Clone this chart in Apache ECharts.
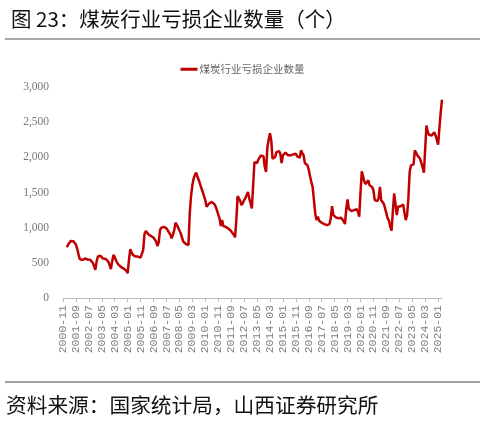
<!DOCTYPE html>
<html>
<head>
<meta charset="utf-8">
<script src="https://cdn.jsdelivr.net/npm/echarts@6/dist/echarts.min.js"></script>
<style>
html,body{margin:0;padding:0;background:#fff;}
#c{width:485px;height:423px;}
</style>
</head>
<body>
<div id="c"></div>
<script>
var titleText = '图 23：煤炭行业亏损企业数量（个）';
var sourceText = '资料来源：国家统计局，山西证券研究所';
var seriesName = '煤炭行业亏损企业数量';
var startYear = 2000, startMonth = 11, monthCount = 294;
var yTicks = [0, 500, 1000, 1500, 2000, 2500, 3000];

var lossCount = [
  null,null,null,722,760,787,811,792,806,792,
  760,700,620,552,525,540,555,561,535,547,
  520,545,530,500,457,400,520,590,615,600,
  590,560,555,556,540,518,470,410,518,613,
  580,533,500,471,455,440,430,418,410,385,
  354,542,693,650,613,595,589,590,589,585,
  575,570,683,910,952,930,905,895,882,865,
  858,849,801,740,790,966,1000,1023,1010,995,
  990,960,943,900,849,900,966,1070,1040,1004,
  960,920,860,801,780,768,760,754,1203,1450,
  1603,1698,1750,1783,1720,1674,1620,1560,1510,1450,
  1391,1296,1320,1344,1360,1367,1355,1334,1300,1249,
  1190,1132,1023,1108,1023,1030,1010,1004,985,966,
  950,943,900,863,1108,1448,1440,1380,1320,1350,
  1391,1420,1448,1509,1415,1350,1274,1603,1933,1957,
  1919,1967,1995,2028,2020,2014,1862,1791,2145,2250,
  2344,2240,1981,1990,2004,2075,2080,2089,2052,1919,
  2028,2050,2066,2040,2028,2030,2028,2035,2042,2050,
  2052,2014,2000,1995,2099,2060,2028,1919,1900,1886,
  1825,1731,1650,1579,1391,1203,1108,1155,1099,1080,
  1070,1055,1051,1045,1037,1040,1051,1132,1306,1179,
  1160,1146,1165,1132,1155,1140,1132,1090,1051,1274,
  1401,1264,1264,1236,1245,1250,1255,1264,1226,1155,
  1500,1801,1816,1650,1620,1603,1674,1603,1590,1579,
  1532,1391,1367,1380,1415,1579,1391,1415,1340,1274,
  1203,1132,1100,1013,957,1226,1486,1344,1179,1297,
  1297,1305,1311,1330,1210,1108,1180,1415,1791,1886,
  1877,1900,2099,2085,2028,2000,1981,1920,1862,1783,
  2122,2452,2358,2320,2315,2311,2330,2358,2311,2250,
  2179,2420,2640,2820
];

var months = [];
(function(){
  var y = startYear, m = startMonth;
  for (var i = 0; i < monthCount; i++) {
    months.push(y + '-' + (m < 10 ? '0' + m : '' + m));
    m++; if (m > 12) { m = 1; y++; }
  }
})();

var chart = echarts.init(document.getElementById('c'), null, {renderer: 'canvas'});
chart.setOption({
  backgroundColor: '#fff',
  animation: false,
  title: {
    text: titleText,
    left: 6, top: 4,
    textStyle: {fontSize: 20.5, fontWeight: 'normal', color: '#111', fontFamily: 'Noto Sans CJK SC'}
  },
  legend: {
    data: [seriesName],
    top: 59, left: 'center',
    itemWidth: 17, itemHeight: 3,
    itemGap: 4,
    icon: 'rect',
    textStyle: {fontSize: 10.5, color: '#666', fontFamily: 'Noto Sans CJK SC', padding: [0,0,0,-3]}
  },
  graphic: [
    {type: 'line', shape: {x1: 5, y1: 39, x2: 480, y2: 39}, style: {stroke: '#8c8c8c', lineWidth: 1.5}},
    {type: 'line', shape: {x1: 5, y1: 382, x2: 480, y2: 382}, style: {stroke: '#444', lineWidth: 1.2}},
    {type: 'text', left: 6, top: 395, style: {text: sourceText, fontSize: 20.7, fill: '#111', fontFamily: 'Noto Sans CJK SC'}}
  ],
  grid: {left: 63, right: 43, top: 87, bottom: 125, containLabel: false},
  xAxis: {
    type: 'category',
    data: months,
    boundaryGap: false,
    axisLine: {lineStyle: {color: '#bfbfbf', width: 1}},
    axisTick: {show: true, interval: 9, length: 4, lineStyle: {color: '#bfbfbf'}},
    axisLabel: {interval: 9, rotate: 90, fontSize: 11.5, color: '#808080', fontFamily: 'Liberation Mono', margin: 7},
    splitLine: {show: false}
  },
  yAxis: {
    type: 'value',
    min: yTicks[0], max: yTicks[yTicks.length - 1], interval: 500,
    axisLine: {show: false},
    axisTick: {show: false},
    splitLine: {show: false},
    axisLabel: {
      fontSize: 11.5, color: '#777', fontFamily: 'Liberation Serif', margin: 14,
      formatter: function(v){ return v.toLocaleString('en-US'); }
    }
  },
  series: [{
    name: seriesName,
    type: 'line',
    data: lossCount,
    showSymbol: false,
    symbol: 'none',
    connectNulls: false,
    lineStyle: {color: '#c00000', width: 2.5},
    itemStyle: {color: '#c00000'}
  }]
});
</script>
</body>
</html>
